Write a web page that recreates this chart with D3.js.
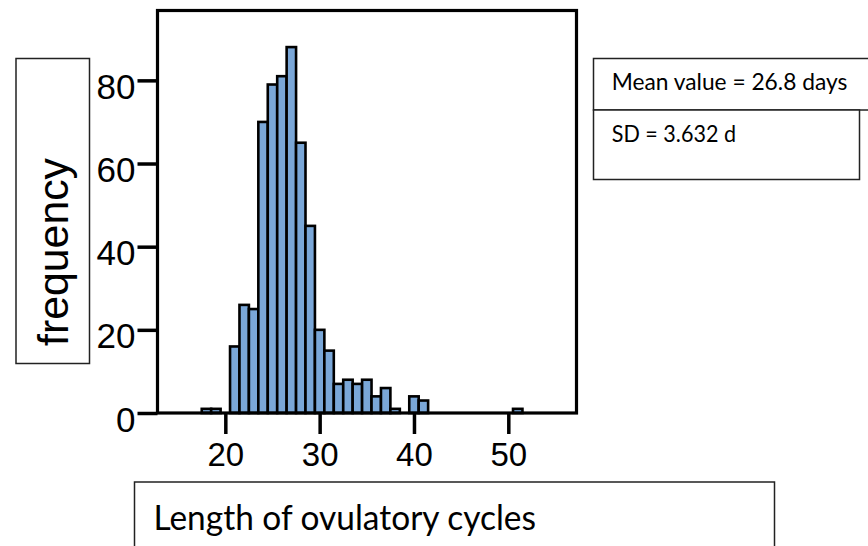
<!DOCTYPE html>
<html>
<head>
<meta charset="utf-8">
<script src="https://cdn.jsdelivr.net/npm/d3@7/dist/d3.min.js"></script>
<style>
  html, body { margin: 0; padding: 0; background: #fff; }
  svg { display: block; }
</style>
</head>
<body>
<svg id="chart" width="868" height="546"></svg>
<script>
// ---- data (bins of 1 day centred on integers) ----
const cycleLength = [18, 19, 20, 21, 22, 23, 24, 25, 26, 27, 28, 29, 30, 31, 32, 33, 34, 35, 36, 37, 38, 39, 40, 41, 51];
const frequency   = [1, 1, 0, 16, 26, 25, 70, 79, 81, 88, 65, 45, 20, 15, 7, 8, 7, 8, 4, 6, 1, 0, 4, 3, 1];
const xTicks = [20, 30, 40, 50];
const yTicks = [0, 20, 40, 60, 80];
const yTitle = "frequency";
const xTitle = "Length of ovulatory cycles";
const statLines = ["Mean value = 26.8 days", "SD = 3.632 d"];

const svg = d3.select("#chart");
svg.append("rect").attr("width", 868).attr("height", 546).attr("fill", "#fff");

const x = d3.scaleLinear().domain([12.81, 57.23]).range([157.5, 576.5]);
const y = d3.scaleLinear().domain([0, 96.8]).range([413, 10.5]);

// bars
svg.append("g").selectAll("rect")
  .data(cycleLength.map((c, i) => ({c, v: frequency[i]})).filter(d => d.v > 0))
  .join("rect")
  .attr("x", d => x(d.c - 0.5))
  .attr("width", d => x(d.c + 0.5) - x(d.c - 0.5))
  .attr("y", d => y(d.v))
  .attr("height", d => y(0) - y(d.v))
  .attr("fill", "#7aa7d8")
  .attr("stroke", "#000")
  .attr("stroke-width", 2.6);

// frame
svg.append("rect")
  .attr("x", x.range()[0]).attr("y", y.range()[1])
  .attr("width", x.range()[1] - x.range()[0])
  .attr("height", y.range()[0] - y.range()[1])
  .attr("fill", "none").attr("stroke", "#000").attr("stroke-width", 3.2);

// y axis
const gy = svg.append("g")
  .attr("transform", `translate(${x.range()[0]},0)`)
  .call(d3.axisLeft(y).tickValues(yTicks).tickSize(20).tickPadding(2).tickFormat(d3.format("d")));
gy.select(".domain").remove();
gy.selectAll(".tick line").attr("stroke", "#000").attr("stroke-width", 3.5);
gy.selectAll(".tick text")
  .attr("font-family", "'Liberation Sans', Arial, sans-serif")
  .attr("font-size", 35).attr("fill", "#000")
  .attr("dy", 18);

// x axis
const gx = svg.append("g")
  .attr("transform", `translate(0,${y.range()[0]})`)
  .call(d3.axisBottom(x).tickValues(xTicks).tickSize(21).tickPadding(9).tickFormat(d3.format("d")));
gx.select(".domain").remove();
gx.selectAll(".tick line").attr("stroke", "#000").attr("stroke-width", 3.5);
gx.selectAll(".tick text")
  .attr("font-family", "'Liberation Sans', Arial, sans-serif")
  .attr("font-size", 33).attr("fill", "#000");

// y title box
svg.append("rect")
  .attr("x", 16).attr("y", 58.5).attr("width", 73.5).attr("height", 305)
  .attr("fill", "#fff").attr("stroke", "#222").attr("stroke-width", 1.5);
svg.append("text")
  .attr("transform", "translate(68,346) rotate(-90)")
  .attr("font-family", "'Liberation Sans', Arial, sans-serif")
  .attr("font-size", 42).attr("fill", "#000")
  .attr("textLength", 188).attr("lengthAdjust", "spacingAndGlyphs")
  .text(yTitle);

// stats boxes
svg.append("rect")
  .attr("x", 593.5).attr("y", 58.5).attr("width", 290).attr("height", 51.5)
  .attr("fill", "#fff").attr("stroke", "#222").attr("stroke-width", 1.5);
svg.append("rect")
  .attr("x", 593.5).attr("y", 110).attr("width", 266).attr("height", 69.5)
  .attr("fill", "#fff").attr("stroke", "#222").attr("stroke-width", 1.5);
svg.append("text")
  .attr("x", 611.7).attr("y", 89.5)
  .attr("font-family", "Lato, 'Open Sans', sans-serif")
  .attr("font-size", 23.5).attr("fill", "#000")
  .attr("textLength", 235.6).attr("lengthAdjust", "spacingAndGlyphs")
  .text(statLines[0]);
svg.append("text")
  .attr("x", 611.7).attr("y", 142)
  .attr("font-family", "Lato, 'Open Sans', sans-serif")
  .attr("font-size", 23.5).attr("fill", "#000")
  .attr("textLength", 124.3).attr("lengthAdjust", "spacingAndGlyphs")
  .text(statLines[1]);

// x title box
svg.append("rect")
  .attr("x", 134.5).attr("y", 482).attr("width", 640).attr("height", 80)
  .attr("fill", "#fff").attr("stroke", "#222").attr("stroke-width", 1.5);
svg.append("text")
  .attr("x", 153.5).attr("y", 530)
  .attr("font-family", "Lato, 'Open Sans', sans-serif")
  .attr("font-size", 35).attr("fill", "#000")
  .attr("textLength", 382.5).attr("lengthAdjust", "spacingAndGlyphs")
  .text(xTitle);
</script>
</body>
</html>
